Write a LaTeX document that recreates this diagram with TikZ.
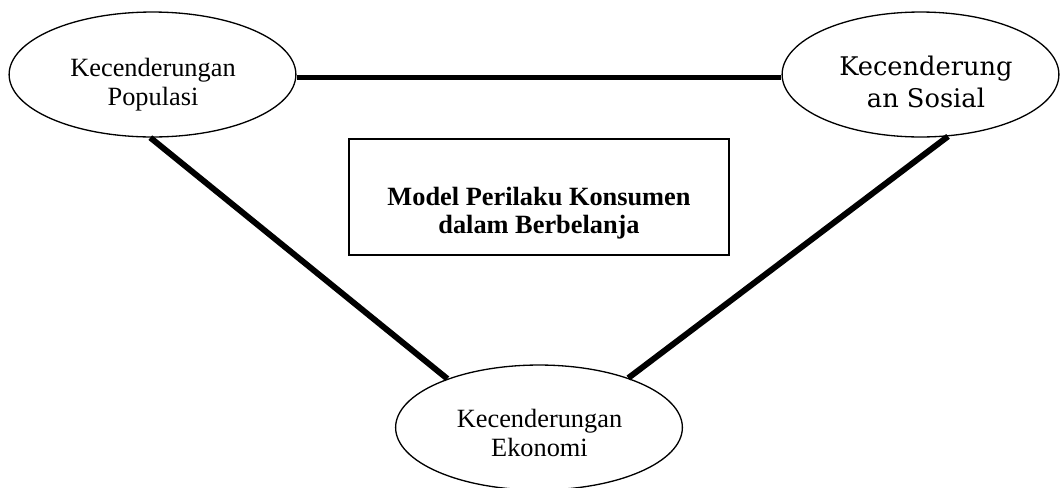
\documentclass[tikz,border=0pt]{standalone}
\usepackage{fontspec}
\setmainfont{Liberation Serif}
\newfontfamily\sosfont{DejaVu Serif}
\usetikzlibrary{shapes.geometric}

\begin{document}
\begin{tikzpicture}[x=0.016cm, y=-0.016cm,
    kec/.style={ellipse, draw, line width=0.6pt, inner sep=0pt, minimum width=4.59cm, minimum height=2cm},
    kectext/.style={inner sep=0pt, align=center, font=\fontsize{12}{13.3}\selectfont},
    link/.style={line width=2.7pt}]
   \useasboundingbox (0,0) rectangle (1061,487);

   \node[kec] (populasi) at (152.5,74.5) {};
   \node[kectext] (populasitext) at (153,84.5) {Kecenderungan\\Populasi};
   \node[kec, minimum width=4.43cm] (sosial) at (920.5,74.5) {};
   \node[kectext, font=\sosfont\fontsize{11.7}{14.5}\selectfont] (sosialtext) at (926,81.5) {Kecenderung\\an Sosial};
   \node[kec] (ekonomi) at (539,427.5) {};
   \node[kectext, font=\fontsize{12}{13.6}\selectfont] (ekonomitext) at (539.5,433) {Kecenderungan\\Ekonomi};

   % kotak tengah
   \node[draw, line width=0.8pt, minimum width=6.08cm, minimum height=1.856cm] (model) at (539,197) {};
   \node[kectext, font=\bfseries\fontsize{12}{12.7}\selectfont] (modeltext) at (539,213) {Model Perilaku Konsumen\\dalam Berbelanja};

   \draw[link] ([yshift=-0.048cm]populasi.east) -- ([yshift=-0.048cm]sosial.west);
   \draw[link] (populasi.268) -- (ekonomi.152);
   \draw[link] (sosial.-66) -- (ekonomi.29);
\end{tikzpicture}
\end{document}
